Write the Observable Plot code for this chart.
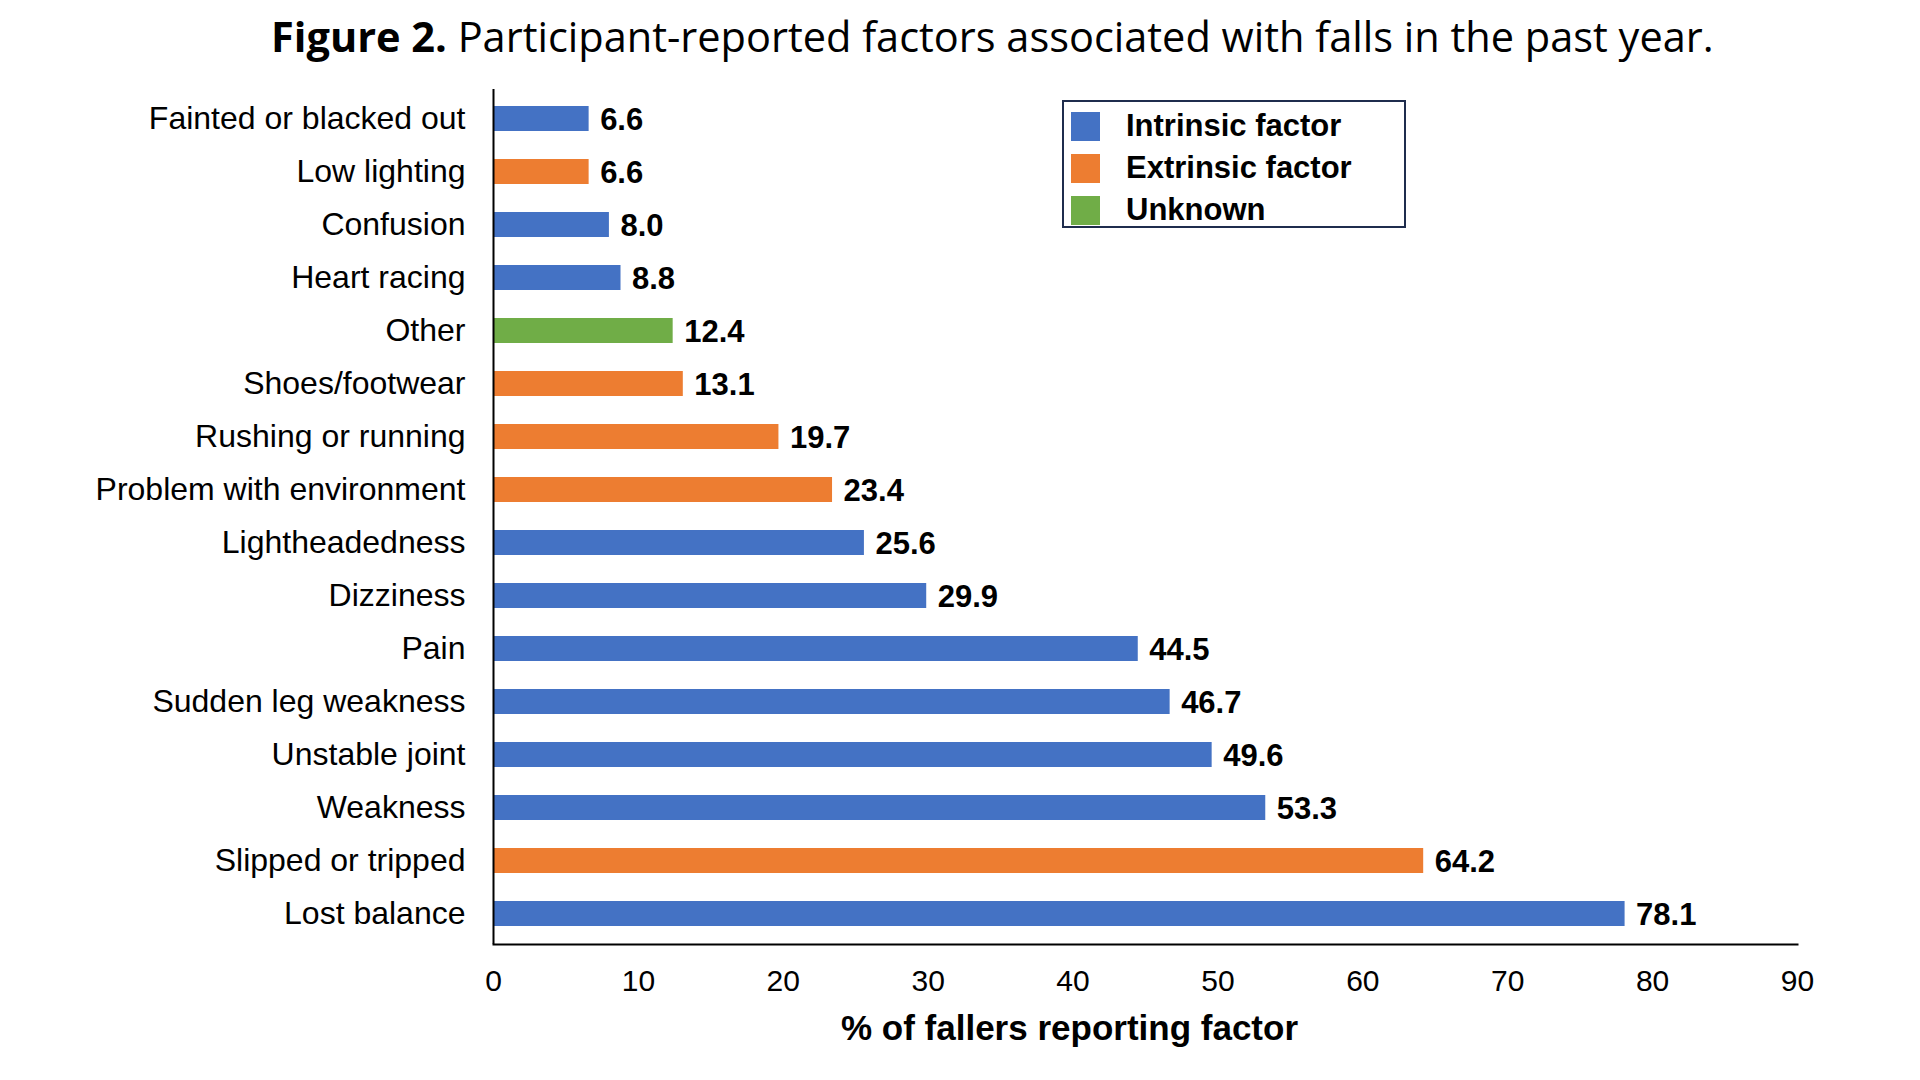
<!DOCTYPE html>
<html>
<head>
<meta charset="utf-8">
<script src="https://cdn.jsdelivr.net/npm/d3@7"></script>
<script src="https://cdn.jsdelivr.net/npm/@observablehq/plot@0.6"></script>
<style>
  html, body { margin: 0; padding: 0; background: #fff; }
  #page { position: relative; width: 1920px; height: 1080px; overflow: hidden; }
  #title { height: 73px; line-height: 73px; padding-left: 271px; font-family: "Open Sans", sans-serif; font-size: 41.5px; color: #000; white-space: nowrap; }
  #title b { font-weight: 700; }
  #chart { margin-top: 2px; }
  #legend { position: absolute; left: 1062px; top: 100px; width: 340px; height: 124px; border: 2px solid #1F2D4D; font-family: "Liberation Sans", Arial, sans-serif; font-weight: bold; font-size: 31px; color: #000; }
  .row { position: absolute; left: 0; height: 42px; display: flex; align-items: center; }
  .sw { width: 29px; height: 29px; margin-left: 7px; margin-right: 26px; }
</style>
</head>
<body>
<div id="page">
  <div id="title"><b>Figure 2.</b> Participant-reported factors associated with falls in the past year.</div>
  <div id="chart"></div>
  <div id="legend"></div>
</div>
<script>
const factors = ["Fainted or blacked out", "Low lighting", "Confusion", "Heart racing", "Other", "Shoes/footwear", "Rushing or running", "Problem with environment", "Lightheadedness", "Dizziness", "Pain", "Sudden leg weakness", "Unstable joint", "Weakness", "Slipped or tripped", "Lost balance"];
const percents = [6.6, 6.6, 8.0, 8.8, 12.4, 13.1, 19.7, 23.4, 25.6, 29.9, 44.5, 46.7, 49.6, 53.3, 64.2, 78.1];
const types = ["Intrinsic factor", "Extrinsic factor", "Intrinsic factor", "Intrinsic factor", "Unknown", "Extrinsic factor", "Extrinsic factor", "Extrinsic factor", "Intrinsic factor", "Intrinsic factor", "Intrinsic factor", "Intrinsic factor", "Intrinsic factor", "Intrinsic factor", "Extrinsic factor", "Intrinsic factor"];
const typeNames = ["Intrinsic factor", "Extrinsic factor", "Unknown"];
const typeColors = ["#4472C4", "#ED7D31", "#70AD47"];
const xTicks = [0, 10, 20, 30, 40, 50, 60, 70, 80, 90];
const xTitle = "% of fallers reporting factor";

const data = factors.map((f, i) => ({factor: f, value: percents[i], type: types[i]}));
const font = "Liberation Sans, Arial, sans-serif";

const chart = Plot.plot({
  width: 1920,
  height: 1005,
  marginTop: 14,
  marginBottom: 136,
  marginLeft: 493,
  marginRight: 123,
  style: {fontFamily: font, color: "#000", background: "#fff"},
  x: {domain: [0, 90], axis: null},
  y: {domain: factors, paddingInner: 0.52, paddingOuter: 0.26, axis: null},
  color: {domain: typeNames, range: typeColors},
  marks: [
    Plot.barX(data, {x: "value", y: "factor", fill: "type"}),
    Plot.text(data, {x: "value", y: "factor", text: d => d.value.toFixed(1), dx: 11, dy: 1, textAnchor: "start", fontWeight: "bold", fontSize: 31, fill: "#000"}),
    Plot.axisY({tickSize: 0, tickPadding: 28, fontSize: 32, label: null, color: "#000"}),
    Plot.axisX({ticks: xTicks, tickSize: 0, tickPadding: 25, fontSize: 30, label: null, color: "#000"}),
    Plot.ruleX([0], {stroke: "#000", strokeWidth: 2}),
    Plot.frame({anchor: "bottom", stroke: "#000", strokeWidth: 2}),
    Plot.text([xTitle], {frameAnchor: "bottom", dy: 95, dx: -76, fontWeight: "bold", fontSize: 35, fill: "#000"})
  ]
});
document.getElementById("chart").appendChild(chart);

const legend = document.getElementById("legend");
typeNames.forEach((name, i) => {
  const row = document.createElement("div");
  row.className = "row";
  row.style.top = (i * 42 + 3) + "px";
  const sw = document.createElement("div");
  sw.className = "sw";
  sw.style.background = typeColors[i];
  const t = document.createElement("span");
  t.textContent = name;
  row.appendChild(sw);
  row.appendChild(t);
  legend.appendChild(row);
});
</script>
</body>
</html>
